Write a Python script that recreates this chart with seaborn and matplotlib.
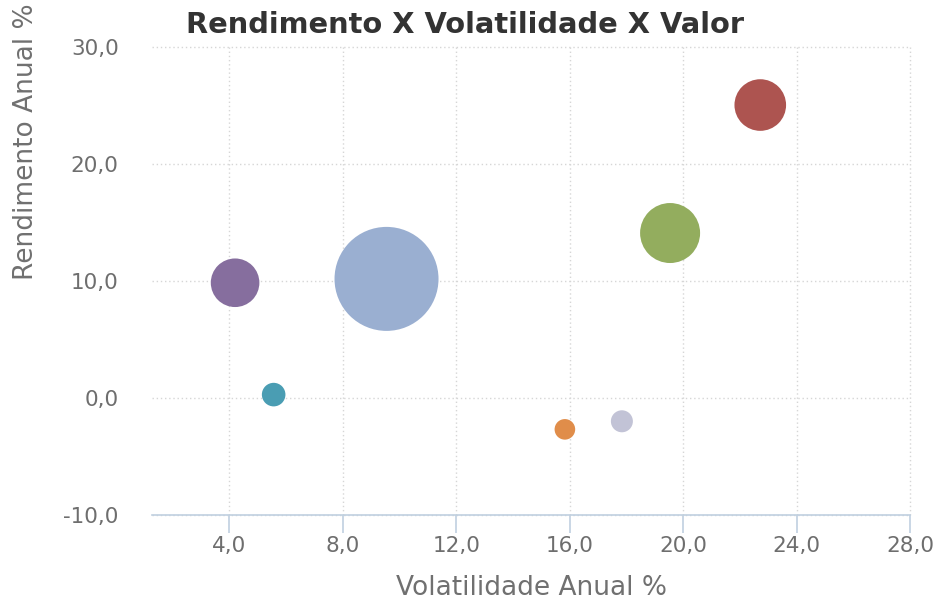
import matplotlib
matplotlib.use("Agg")
import matplotlib.pyplot as plt
import seaborn as sns
import pandas as pd
from matplotlib.ticker import FuncFormatter, FixedLocator

# ---- data ----
nomes = ["Ativo A", "Ativo B", "Ativo C", "Ativo D", "Ativo E", "Ativo F", "Ativo G"]
volatilidade = [9.54, 22.72, 19.54, 4.20, 5.56, 15.83, 17.84]
rendimento = [10.18, 25.04, 14.10, 9.85, 0.29, -2.68, -1.99]
valor = [2704, 666, 900, 590, 139, 106, 121]
cores = ["#9AAFD1", "#AD5450", "#93AD5E", "#866E9E", "#4A9DB3", "#E08D4A", "#C2C3D6"]
x_ticks = [4, 8, 12, 16, 20, 24, 28]
y_ticks = [-10, 0, 10, 20, 30]

df = pd.DataFrame({"nome": nomes, "vol": volatilidade, "ret": rendimento, "valor": valor})

sns.set_theme(style="white")
plt.rcParams["font.family"] = ["DejaVu Sans"]

fig = plt.figure(figsize=(9.4, 6.01), dpi=100)
L, R, T, B = 152, 910, 47, 515
ax = fig.add_axes([L / 940, 1 - B / 601, (R - L) / 940, (B - T) / 601])

sns.scatterplot(data=df, x="vol", y="ret", hue="nome", size="valor",
                palette=dict(zip(nomes, cores)), sizes=(0, 5607), size_norm=(0, 2704),
                linewidth=0, alpha=1, legend=False, ax=ax, zorder=3)

ax.set_xlim(1.27, 28.0)
ax.set_ylim(-10, 30)
ax.xaxis.set_major_locator(FixedLocator(x_ticks))
ax.yaxis.set_major_locator(FixedLocator(y_ticks))
fmt = FuncFormatter(lambda v, p: f"{v:.1f}".replace(".", ","))
ax.xaxis.set_major_formatter(fmt)
ax.yaxis.set_major_formatter(fmt)

ax.set_axisbelow(True)
ax.grid(True, linestyle=(0, (1, 2)), color="#d6d6d6", linewidth=1.0, clip_on=False)
for s in ["top", "right", "left"]:
    ax.spines[s].set_visible(False)
ax.spines["bottom"].set_color("#C0D0E0")
ax.spines["bottom"].set_linewidth(1.2)
ax.spines["bottom"].set_zorder(4)

ax.tick_params(axis="x", direction="out", length=13, width=1.2, color="#C0D0E0",
               pad=2, labelsize=15.5, labelcolor="#6e6e6e", bottom=True)
ax.tick_params(axis="y", length=0, pad=24, labelsize=15.5, labelcolor="#6e6e6e", left=True)

ax.set_xlabel("Volatilidade Anual %", fontsize=19, color="#707070", labelpad=14)
ax.set_ylabel("")
fig.text(26 / 940, 1 - 280 / 601, "Rendimento Anual %", rotation=90, ha="center", va="bottom",
         fontsize=19, color="#707070")

fig.text(465 / 940, 1 - 25 / 601, "Rendimento X Volatilidade X Valor", ha="center", va="center",
         fontsize=20.8, fontweight="bold", color="#333333")

fig.savefig("out.png", dpi=100)
